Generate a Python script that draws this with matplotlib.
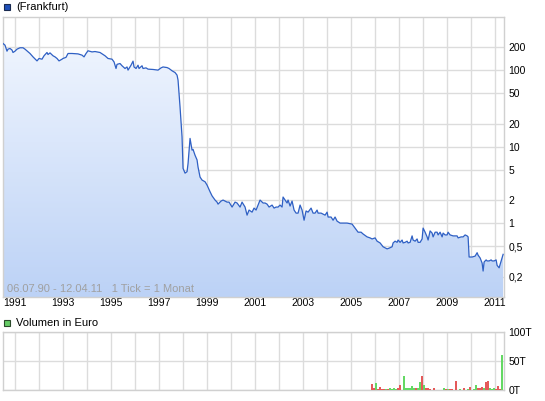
import numpy as np
import matplotlib
matplotlib.use("Agg")
import matplotlib.pyplot as plt
from matplotlib.patches import Rectangle
from matplotlib.ticker import FixedLocator, NullLocator

plt.rcParams['font.family'] = ['Liberation Sans', 'DejaVu Sans']

# price, months counted from July 1990 (1 tick = 1 month)
months = [0, 1, 2, 2.5, 3.5, 4.5, 5, 6, 7, 8.5,
          10, 11, 13.5, 15, 17, 18, 19.5, 20.5, 22, 22.5,
          23.5, 25, 26, 27, 28, 29.5, 30, 31.5, 32.5, 34.5,
          37.5, 39.5, 40.5, 41.5, 42.5, 44.5, 46, 48.5, 51, 52.5,
          54.5, 55.5, 56.5, 57, 58.5, 59.5, 61, 62, 62.5, 64,
          65, 65.5, 66.5, 67.5, 68, 69.5, 70, 71.5, 72.5, 75,
          77.5, 79, 80, 82, 83, 84.5, 86, 87, 87.5, 88.5,
          89.5, 90, 91, 92, 92.5, 93.5, 94.5, 95, 96, 97,
          97.5, 98.5, 99.5, 101, 102, 102.5, 103.5, 104.5, 106, 107,
          107.5, 109, 110, 112, 113, 114.5, 116, 117, 118.5, 119.5,
          121, 122, 123, 124.5, 125.5, 126.5, 127.5, 128.5, 130, 131,
          132, 133, 134.5, 135.5, 136.5, 137.5, 138.5, 139.5, 140, 141,
          142, 142.5, 143.5, 144.5, 145.5, 146.5, 147.5, 148.5, 149.5, 150.5,
          151.5, 152.5, 154, 155, 156, 157, 157.5, 159, 160, 161,
          162, 162.5, 164, 165, 166, 167, 168.5, 170, 172, 174.5,
          176, 177.5, 179, 180, 182, 183.5, 184.5, 186, 187, 188.5,
          190, 192, 193, 194.5, 195, 196, 197, 197.5, 198.5, 199.5,
          200, 201, 202, 202.5, 203.5, 204.5, 205, 206, 207, 207.5,
          208.5, 209.5, 210, 211, 212, 212.5, 213.5, 214.5, 215, 216,
          217, 217.5, 218.5, 219.5, 220, 221, 222, 222.5, 223.5, 225,
          227, 227.5, 229, 230, 231, 232, 232.5, 233, 234.5, 236,
          237, 237.5, 238.5, 239.5, 240, 240.5, 241.5, 242, 243, 244,
          244.5, 245.5, 246.5, 247, 248, 249, 250]
prices = [223, 212, 177, 188, 192, 183, 170, 177, 188, 196,
          196, 188, 165, 149, 132, 142, 139, 154, 170, 160,
          168, 154, 149, 142, 132, 139, 142, 147, 165, 165,
          163, 157, 149, 165, 179, 173, 175, 170, 154, 142,
          139, 128, 105, 119, 122, 114, 105, 110, 100, 116,
          131, 110, 105, 116, 105, 114, 105, 107, 103, 102,
          100, 107, 110, 108, 105, 98, 93, 86, 74, 33,
          13.4, 5.2, 4.5, 4.7, 6.0, 12.8, 9.0, 9.2, 7.7, 6.7,
          5.4, 4.0, 3.65, 3.47, 3.14, 2.93, 2.57, 2.27, 2.0, 1.88,
          1.77, 1.94, 2.0, 1.88, 1.88, 1.62, 1.88, 1.83, 1.62, 1.88,
          1.62, 1.27, 1.48, 1.39, 1.57, 1.48, 1.72, 2.0, 1.83, 1.83,
          1.77, 1.62, 1.72, 1.57, 1.62, 1.62, 1.72, 1.62, 2.19, 2.0,
          1.83, 2.0, 1.67, 1.94, 1.48, 1.35, 1.35, 1.72, 1.48, 1.09,
          1.44, 1.39, 1.57, 1.35, 1.35, 1.48, 1.35, 1.35, 1.31, 1.27,
          1.39, 1.2, 1.2, 1.09, 1.2, 1.06, 1.0, 1.0, 1.0, 0.97,
          0.86, 0.76, 0.76, 0.72, 0.66, 0.64, 0.62, 0.64, 0.58, 0.55,
          0.49, 0.46, 0.47, 0.49, 0.55, 0.58, 0.56, 0.60, 0.56, 0.60,
          0.55, 0.56, 0.58, 0.55, 0.56, 0.68, 0.60, 0.58, 0.62, 0.56,
          0.56, 0.62, 0.86, 0.76, 0.66, 0.60, 0.79, 0.74, 0.66, 0.76,
          0.76, 0.70, 0.76, 0.66, 0.74, 0.70, 0.70, 0.76, 0.70, 0.68,
          0.68, 0.64, 0.66, 0.66, 0.70, 0.68, 0.66, 0.36, 0.36, 0.37,
          0.41, 0.38, 0.35, 0.30, 0.236, 0.31, 0.33, 0.32, 0.32, 0.33,
          0.32, 0.32, 0.33, 0.28, 0.26, 0.32, 0.39]

# volume in thousand euro (T)
vol_months = [184, 185, 186, 187, 188, 189, 190, 191, 192, 193, 194,
              195, 196, 197, 198, 200, 201, 202, 203, 204, 205, 206,
              207, 208, 209, 210, 211, 212, 213, 215, 220, 221, 222,
              223, 224, 226, 228, 230, 232, 233, 235, 236, 237, 238,
              239, 240, 241, 242, 243, 244, 245, 246, 247, 248, 249]
vol_values = [11, 2.8, 12.8, 1.7, 5.5, 1.7, 1.1, 1.1, 1.1, 2.8, 2.2,
              3.9, 2.2, 2.8, 9.4, 24.4, 2.8, 2.8, 2.8, 6.1, 3.9, 2.8,
              3.9, 14.4, 24.4, 8.3, 2.8, 2.8, 1.1, 2.8, 2.8, 1.1, 1.1,
              1.1, 1.1, 16, 1.1, 2.8, 1.1, 4.4, 1.7, 9.4, 2.8, 2.8,
              4.4, 2.8, 14.4, 16, 2.8, 1.7, 2.8, 1.1, 6.1, 1.1, 61]
vol_up = [0, 0, 1, 0, 0, 0, 0, 1, 0, 1, 1,
          1, 1, 0, 0, 1, 1, 1, 1, 1, 1, 0,
          1, 1, 0, 1, 0, 0, 0, 0, 1, 0, 1,
          0, 0, 0, 1, 0, 1, 0, 1, 1, 0, 0,
          0, 1, 0, 0, 1, 1, 1, 0, 0, 0, 1]

price_ticks = [0.2, 0.5, 1, 2, 5, 10, 20, 50, 100, 200]
price_labels = ['0,2', '0,5', '1', '2', '5', '10', '20', '50', '100', '200']
vol_ticks = [0, 50, 100]
vol_labels = ['0T', '50T', '100T']
years = list(range(1991, 2012))

start = 1990.5
dates = start + np.array(months) / 12.0
vdates = start + np.array(vol_months) / 12.0

W, H = 545, 401
fig = plt.figure(figsize=(W / 100, H / 100), dpi=100)
grid_c = '#dcdcdc'
x0, x1 = 1990.5, 2011.37

def style(ax):
    ax.set_xlim(x0, x1)
    ax.xaxis.set_major_locator(FixedLocator(years))
    ax.xaxis.set_minor_locator(NullLocator())
    ax.grid(True, color=grid_c, lw=1)
    ax.set_axisbelow(True)
    ax.yaxis.tick_right()
    ax.tick_params(length=0, labelsize=7.5, colors='black')
    ax.tick_params(axis='y', pad=3)
    for s in ax.spines.values():
        s.set_color('#d0d0d0')
        s.set_linewidth(1)

# main price panel
ax = fig.add_axes([3 / W, 1 - 297 / H, 501 / W, 280 / H])
ax.set_yscale('log')
fill = ax.fill_between(dates, prices, 0.01, color='none', lw=0)
grad = np.linspace(0, 1, 256).reshape(-1, 1)
top_c = np.array([244, 248, 255]) / 255
bot_c = np.array([188, 210, 246]) / 255
img = top_c + (bot_c - top_c) * grad
im = ax.imshow(img.reshape(256, 1, 3), extent=[0, 1, 0, 1], transform=ax.transAxes,
               aspect='auto', zorder=1, interpolation='bilinear')
im.set_clip_path(fill.get_paths()[0], transform=ax.transData)
ax.plot(dates, prices, color='#2f60c4', lw=0.9, zorder=3)
style(ax)
ax.set_ylim(0.108, 495)
ax.yaxis.set_major_locator(FixedLocator(price_ticks))
ax.yaxis.set_minor_locator(NullLocator())
ax.set_yticklabels(price_labels)
ax.set_xticklabels([str(y) if y % 2 == 1 else '' for y in years])
ax.tick_params(axis='x', pad=1)
ax.text(4 / 501, 3 / 280, '06.07.90 - 12.04.11   1 Tick = 1 Monat', transform=ax.transAxes,
        fontsize=8, color='#a0a0a0', ha='left', va='bottom', zorder=4)

# volume panel
axv = fig.add_axes([3 / W, 1 - 390 / H, 501 / W, 58 / H])
colors = ['#64d864' if u else '#e45a5a' for u in vol_up]
axv.bar(vdates, vol_values, width=0.55 / 12, color=colors, edgecolor=colors,
        linewidth=0.4, antialiased=False, zorder=3)
style(axv)
axv.set_ylim(0, 100)
axv.yaxis.set_major_locator(FixedLocator(vol_ticks))
axv.set_yticklabels(vol_labels)
axv.set_xticklabels([])

# legends
fig.add_artist(Rectangle((4 / W, 1 - 10 / H), 6 / W, 6 / H, transform=fig.transFigure,
                         fc='#1f50b8', ec='#1a2a50', lw=0.8))
fig.text(16 / W, 1 - 7 / H, '(Frankfurt)', fontsize=8, va='center', ha='left')
fig.add_artist(Rectangle((4 / W, 1 - 326 / H), 6 / W, 6 / H, transform=fig.transFigure,
                         fc='#66cc66', ec='#2a4a2a', lw=0.8))
fig.text(16 / W, 1 - 323 / H, 'Volumen in Euro', fontsize=8, va='center', ha='left')

fig.savefig('out.png', dpi=100)
